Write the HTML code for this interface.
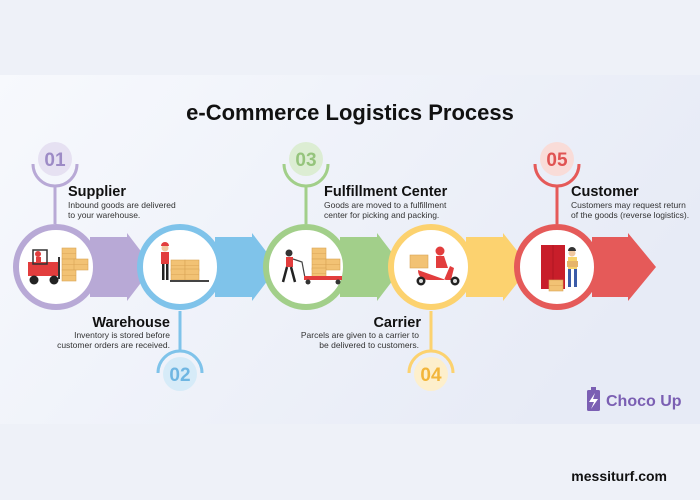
<!DOCTYPE html>
<html><head><meta charset="utf-8"><style>
html,body{margin:0;padding:0;width:700px;height:500px;overflow:hidden;background:#eef1f8;font-family:"Liberation Sans",sans-serif}
</style></head><body>
<svg width="700" height="500" viewBox="0 0 700 500" xmlns="http://www.w3.org/2000/svg" font-family="Liberation Sans, sans-serif">
<defs>
<linearGradient id="pg" x1="0" y1="0" x2="1" y2="0.4">
<stop offset="0" stop-color="#f7f9fd"/><stop offset="1" stop-color="#e7ebf6"/></linearGradient>
<g id="box"><rect width="14" height="11" fill="#f2c274" stroke="#d9a456" stroke-width="0.6"/><line x1="0" y1="5.5" x2="14" y2="5.5" stroke="#d9a456" stroke-width="0.5"/></g>
</defs>
<rect width="700" height="500" fill="#eef1f8"/>
<rect x="0" y="75" width="700" height="349" fill="url(#pg)"/>
<text x="350" y="120" text-anchor="middle" font-size="22" font-weight="bold" fill="#111">e-Commerce Logistics Process</text>

<g>
<path d="M90 237 H127 V233 L153 267 L127 301 V297 H90Z" fill="#b8a9d6"/>
<path d="M215 237 H252 V233 L278 267 L252 301 V297 H215Z" fill="#7fc3ea"/>
<path d="M340 237 H377 V233 L403 267 L377 301 V297 H340Z" fill="#a2cf8a"/>
<path d="M466 237 H503 V233 L530 267 L503 301 V297 H466Z" fill="#fcd26f"/>
<path d="M592 237 H628 V233 L656 267 L628 301 V297 H592Z" fill="#e55a59"/>
</g>

<g fill="none" stroke-width="3">
<path d="M33 164 A22 22 0 0 0 77 164" stroke="#b8a9d6"/><line x1="55" y1="186" x2="55" y2="224" stroke="#b8a9d6"/>
<path d="M158 373 A22 22 0 0 1 202 373" stroke="#7fc3ea"/><line x1="180" y1="311" x2="180" y2="351" stroke="#7fc3ea"/>
<path d="M284 164 A22 22 0 0 0 328 164" stroke="#a2cf8a"/><line x1="306" y1="186" x2="306" y2="224" stroke="#a2cf8a"/>
<path d="M409 373 A22 22 0 0 1 453 373" stroke="#fcd26f"/><line x1="431" y1="311" x2="431" y2="351" stroke="#fcd26f"/>
<path d="M535 164 A22 22 0 0 0 579 164" stroke="#e55a59"/><line x1="557" y1="186" x2="557" y2="224" stroke="#e55a59"/>
</g>
<circle cx="55" cy="159" r="17" fill="#e6e1f2"/>
<circle cx="180" cy="374" r="17" fill="#d6ebf8"/>
<circle cx="306" cy="159" r="17" fill="#dcedd3"/>
<circle cx="431" cy="374" r="17" fill="#fdefcc"/>
<circle cx="557" cy="159" r="17" fill="#f9dcd8"/>
<g font-size="19" font-weight="bold" text-anchor="middle">
<text x="55" y="166" fill="#9d8bc6">01</text>
<text x="180" y="381" fill="#6fb6e2">02</text>
<text x="306" y="166" fill="#95c47c">03</text>
<text x="431" y="381" fill="#f2b53a">04</text>
<text x="557" y="166" fill="#e05352">05</text>
</g>

<g fill="#fff" stroke-width="6">
<circle cx="56" cy="267" r="40" stroke="#b8a9d6"/>
<circle cx="180" cy="267" r="40" stroke="#7fc3ea"/>
<circle cx="306" cy="267" r="40" stroke="#a2cf8a"/>
<circle cx="431" cy="267" r="40" stroke="#fcd26f"/>
<circle cx="557" cy="267" r="40" stroke="#e55a59"/>
</g>

<g>
<rect x="28" y="262" width="30" height="14" fill="#e23d3d"/>
<rect x="33" y="250" width="14" height="14" fill="none" stroke="#333" stroke-width="1.5"/>
<circle cx="38" cy="254" r="3" fill="#e23d3d"/><rect x="36" y="257" width="5" height="6" fill="#e23d3d"/>
<rect x="58" y="257" width="2" height="22" fill="#333"/>
<circle cx="34" cy="280" r="4.5" fill="#222"/><circle cx="54" cy="280" r="4.5" fill="#222"/>
<use href="#box" x="62" y="248"/><use href="#box" x="62" y="259"/><use href="#box" x="74" y="259"/><use href="#box" x="62" y="270"/>
</g>
<g>
<circle cx="165" cy="248" r="3.5" fill="#f0c8a0"/><path d="M161 246 a4 4 0 0 1 8 0z" fill="#e23d3d"/>
<rect x="161" y="252" width="8" height="12" fill="#e23d3d"/>
<rect x="162" y="264" width="2.5" height="16" fill="#222"/><rect x="166" y="264" width="2.5" height="16" fill="#222"/>
<use href="#box" x="171" y="260"/><use href="#box" x="185" y="260"/><use href="#box" x="171" y="269"/><use href="#box" x="185" y="269"/>
<rect x="170" y="280" width="39" height="2" fill="#444"/>
</g>
<g>
<circle cx="289" cy="253" r="3.5" fill="#333"/><rect x="286" y="257" width="7" height="10" fill="#e23d3d"/>
<path d="M287 267 L283 282 M291 267 L295 282" stroke="#222" stroke-width="2.5"/>
<path d="M293 259 L302 262 L305 278" stroke="#444" stroke-width="1.2" fill="none"/>
<use href="#box" x="312" y="248"/><use href="#box" x="312" y="259"/><use href="#box" x="326" y="259"/><use href="#box" x="312" y="268"/>
<rect x="304" y="276" width="38" height="4" fill="#e23d3d"/>
<circle cx="308" cy="282" r="2.5" fill="#333"/><circle cx="338" cy="282" r="2.5" fill="#333"/>
</g>
<g>
<rect x="410" y="255" width="18" height="13" fill="#f2c274" stroke="#d9a456" stroke-width="0.6"/>
<circle cx="440" cy="251" r="4.5" fill="#e23d3d"/>
<path d="M436 256 h8 l4 12 h-12z" fill="#e23d3d"/>
<path d="M418 270 q0 10 12 10 h14 l6 -14 l4 2 l-3 12 h-5z" fill="#e23d3d"/>
<circle cx="421" cy="281" r="4.5" fill="#222"/><circle cx="421" cy="281" r="2" fill="#ddd"/>
<circle cx="455" cy="281" r="4.5" fill="#222"/><circle cx="455" cy="281" r="2" fill="#ddd"/>
</g>
<g>
<rect x="541" y="245" width="24" height="44" fill="#c81e2a"/>
<line x1="553" y1="245" x2="553" y2="289" stroke="#a51520" stroke-width="0.7"/>
<use href="#box" x="549" y="280"/>
<circle cx="572" cy="253" r="3.5" fill="#f0c8a0"/><path d="M568 251 a4 4 0 0 1 8 0z" fill="#333"/>
<rect x="568" y="257" width="9" height="12" fill="#f7d26a"/><rect x="567" y="261" width="11" height="6" fill="#e6b46a"/>
<rect x="568" y="269" width="3" height="18" fill="#3a5ba8"/><rect x="574" y="269" width="3" height="18" fill="#3a5ba8"/>
</g>

<g fill="#111">
<text x="68" y="196" font-size="14.5" font-weight="bold">Supplier</text>
<text x="68" y="208" font-size="8.5" fill="#333">Inbound goods are delivered</text>
<text x="68" y="218" font-size="8.5" fill="#333">to your warehouse.</text>

<text x="170" y="327" font-size="14.5" font-weight="bold" text-anchor="end">Warehouse</text>
<text x="170" y="338" font-size="8.5" fill="#333" text-anchor="end">Inventory is stored before</text>
<text x="170" y="348" font-size="8.5" fill="#333" text-anchor="end">customer orders are received.</text>

<text x="324" y="196" font-size="14.5" font-weight="bold">Fulfillment Center</text>
<text x="324" y="208" font-size="8.5" fill="#333">Goods are moved to a fulfillment</text>
<text x="324" y="218" font-size="8.5" fill="#333">center for picking and packing.</text>

<text x="421" y="327" font-size="14.5" font-weight="bold" text-anchor="end">Carrier</text>
<text x="419" y="338" font-size="8.5" fill="#333" text-anchor="end">Parcels are given to a carrier to</text>
<text x="419" y="348" font-size="8.5" fill="#333" text-anchor="end">be delivered to customers.</text>

<text x="571" y="196" font-size="14.5" font-weight="bold">Customer</text>
<text x="571" y="208" font-size="8.5" fill="#333">Customers may request return</text>
<text x="571" y="218" font-size="8.5" fill="#333">of the goods (reverse logistics).</text>
</g>

<g>
<rect x="587" y="390" width="13" height="21" rx="1.5" fill="#7b5fb3"/><rect x="591" y="387" width="5" height="4" fill="#7b5fb3"/>
<path d="M595 393 L589 402 H594 L591 409 L598 399 H593Z" fill="#fff"/>
<text x="606" y="406" font-size="16" font-weight="bold" fill="#7b5fb3">Choco Up</text>
</g>
<text x="667" y="481" font-size="14" font-weight="bold" fill="#111" text-anchor="end">messiturf.com</text>
</svg>
</body></html>
